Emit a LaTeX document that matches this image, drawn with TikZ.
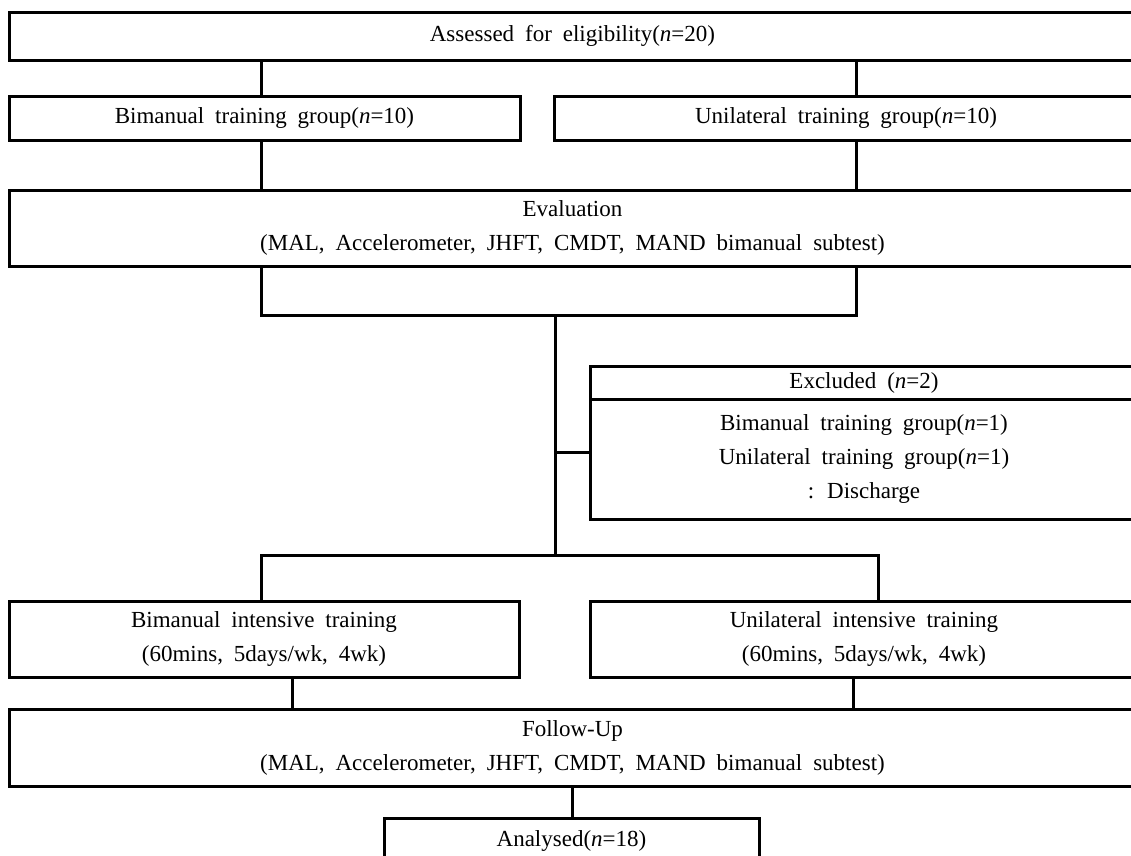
\documentclass[tikz,border=0pt]{standalone}
\usepackage{fontspec}
\setmainfont{Liberation Serif}[WordSpace=1.9]
\begin{document}
\begin{tikzpicture}[x=1pt,y=-1pt,
  box/.style={draw, line width=3pt, inner sep=0pt, align=center,
    font=\fontsize{23}{34}\selectfont},
  conn/.style={line width=3pt}]
\useasboundingbox (0,0) rectangle (1131,855);
% boxes (right edges run past the page edge, as in the reference)
\node[box, minimum width=1127pt, minimum height=48pt] (assess) at (572.5,36) {Assessed for eligibility(\textit{n}=20)};
\node[box, minimum width=511pt, minimum height=44pt] (bim) at (264.5,118) {Bimanual training group(\textit{n}=10)};
\node[box, minimum width=584pt, minimum height=44pt] (uni) at (846,118) {Unilateral training group(\textit{n}=10)};
\node[box, minimum width=1127pt, minimum height=76pt] (eval) at (572.5,228) {Evaluation\\(MAL, Accelerometer, JHFT, CMDT, MAND bimanual subtest)};
\node[box, minimum width=548pt, minimum height=33pt] (exh) at (864,382.5) {Excluded (\textit{n}=2)};
\node[box, minimum width=548pt, minimum height=120pt] (exb) at (864,459) {Bimanual training group(\textit{n}=1)\\Unilateral training group(\textit{n}=1)\\: Discharge};
\node[box, minimum width=510pt, minimum height=76pt] (bimI) at (264,639) {Bimanual intensive training\\(60mins, 5days/wk, 4wk)};
\node[box, minimum width=548pt, minimum height=76pt] (uniI) at (864,639) {Unilateral intensive training\\(60mins, 5days/wk, 4wk)};
\node[box, minimum width=1127pt, minimum height=77pt] (follow) at (572.5,747.5) {Follow-Up\\(MAL, Accelerometer, JHFT, CMDT, MAND bimanual subtest)};
\node[box, minimum width=375pt, minimum height=46pt] (anal) at (571.5,841) {Analysed(\textit{n}=18)};
% reference coordinates for connector positions
\coordinate (xL) at (261,0);
\coordinate (xR) at (856,0);
\coordinate (xR2) at (878,0);
\coordinate (xB) at (292,0);
\coordinate (xU) at (853,0);
\coordinate (xA) at (572,0);
\coordinate (j1) at (555,315);
\coordinate (j2) at (555,555);
\coordinate (jx) at (555,452);
% connectors
\draw[conn] (assess.south -| xL) -- (bim.north -| xL);
\draw[conn] (assess.south -| xR) -- (uni.north -| xR);
\draw[conn] (bim.south -| xL) -- (eval.north -| xL);
\draw[conn] (uni.south -| xR) -- (eval.north -| xR);
\draw[conn] (eval.south -| xL) |- (j1) -| (eval.south -| xR);
\draw[conn] (j1) -- (j2);
\draw[conn] (jx) -- (jx -| exb.west);
\draw[conn] (bimI.north -| xL) |- (j2) -| (uniI.north -| xR2);
\draw[conn] (bimI.south -| xB) -- (follow.north -| xB);
\draw[conn] (uniI.south -| xU) -- (follow.north -| xU);
\draw[conn] (follow.south -| xA) -- (anal.north -| xA);
\end{tikzpicture}
\end{document}
